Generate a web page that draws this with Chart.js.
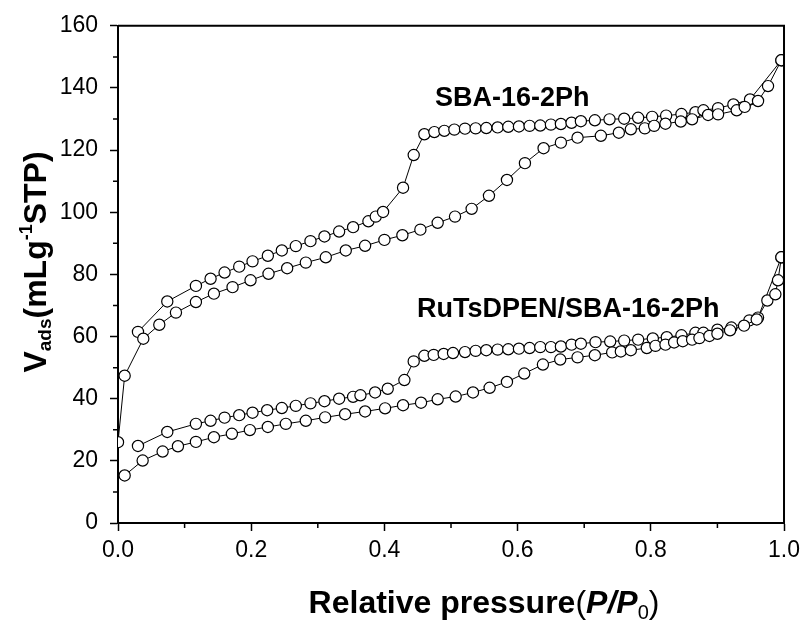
<!DOCTYPE html>
<html>
<head>
<meta charset="utf-8">
<script src="https://cdn.jsdelivr.net/npm/chart.js@4/dist/chart.umd.min.js"></script>
<style>
  html, body { margin: 0; padding: 0; background: #fff; }
  #wrap { width: 806px; height: 627px; }
</style>
</head>
<body>
<div id="wrap"><canvas id="grafico"></canvas></div>
<script>
// dados (isotermas de N2)

// SBA-16-2Ph, ramo de adsorcao
const sbaAdsX = [0, 0.010, 0.038, 0.062, 0.087, 0.117, 0.144, 0.172, 0.199, 0.226,
    0.254, 0.282, 0.312, 0.342, 0.371, 0.400, 0.427, 0.454, 0.480, 0.506,
    0.531, 0.557, 0.584, 0.611, 0.639, 0.665, 0.690, 0.725, 0.752, 0.770,
    0.791, 0.805, 0.822, 0.845, 0.862, 0.886, 0.901, 0.929, 0.941, 0.961,
    0.976, 0.996];
const sbaAdsY = [26.0, 47.4, 59.3, 63.8, 67.7, 71.1, 73.8, 75.9, 78.1, 80.2,
    82.0, 83.8, 85.5, 87.7, 89.2, 91.1, 92.6, 94.4, 96.6, 98.6,
    101.1, 105.3, 110.4, 115.8, 120.6, 122.4, 124.0, 124.6, 125.6, 126.7,
    127.0, 127.8, 128.5, 129.2, 129.9, 131.3, 131.5, 132.8, 133.9, 135.8,
    140.6, 148.9];

// SBA-16-2Ph, ramo de dessorcao
const sbaDesX = [0.030, 0.074, 0.117, 0.139, 0.160, 0.182, 0.202, 0.225, 0.246, 0.267,
    0.289, 0.310, 0.332, 0.353, 0.376, 0.387, 0.398, 0.428, 0.444, 0.460,
    0.475, 0.490, 0.505, 0.521, 0.537, 0.553, 0.570, 0.586, 0.602, 0.618,
    0.634, 0.650, 0.665, 0.681, 0.695, 0.716, 0.738, 0.760, 0.781, 0.802,
    0.823, 0.846, 0.867, 0.879, 0.901, 0.924, 0.949, 0.996];
const sbaDesY = [61.5, 71.3, 76.3, 78.6, 80.6, 82.5, 84.2, 86.0, 87.7, 89.1,
    90.7, 92.2, 93.8, 95.2, 97.1, 98.6, 100.1, 107.9, 118.4, 125.1,
    125.8, 126.2, 126.6, 126.9, 127.0, 127.1, 127.3, 127.5, 127.6, 127.8,
    127.9, 128.2, 128.4, 128.8, 129.3, 129.6, 129.9, 130.1, 130.4, 130.7,
    131.1, 131.6, 132.2, 132.8, 133.5, 134.7, 136.3, 148.9];

// RuTsDPEN/SBA-16-2Ph, ramo de adsorcao
const ruAdsX = [0.010, 0.037, 0.067, 0.090, 0.117, 0.144, 0.171, 0.198, 0.225, 0.252,
    0.282, 0.311, 0.341, 0.371, 0.401, 0.428, 0.455, 0.480, 0.507, 0.533,
    0.558, 0.584, 0.610, 0.638, 0.664, 0.690, 0.716, 0.742, 0.755, 0.770,
    0.794, 0.807, 0.822, 0.835, 0.848, 0.862, 0.873, 0.888, 0.900, 0.919,
    0.940, 0.959, 0.975, 0.987, 0.991, 0.996];
const ruAdsY = [15.3, 20.1, 23.0, 24.7, 26.1, 27.6, 28.7, 29.9, 30.9, 31.9,
    32.9, 34.0, 35.0, 35.9, 36.9, 37.9, 38.7, 39.8, 40.7, 42.0,
    43.5, 45.4, 48.1, 51.0, 52.6, 53.3, 54.0, 54.9, 55.2, 55.6,
    56.3, 57.0, 57.4, 58.1, 58.5, 59.0, 59.5, 60.2, 60.9, 62.0,
    63.5, 65.5, 71.6, 73.6, 78.1, 85.5];

// RuTsDPEN/SBA-16-2Ph, ramo de dessorcao
const ruDesX = [0.030, 0.074, 0.117, 0.139, 0.160, 0.182, 0.202, 0.224, 0.246, 0.267,
    0.289, 0.310, 0.332, 0.353, 0.364, 0.386, 0.405, 0.430, 0.444, 0.460,
    0.474, 0.489, 0.503, 0.521, 0.537, 0.553, 0.570, 0.586, 0.602, 0.618,
    0.634, 0.650, 0.665, 0.681, 0.695, 0.717, 0.739, 0.760, 0.781, 0.803,
    0.824, 0.846, 0.867, 0.879, 0.900, 0.921, 0.948, 0.961, 0.996];
const ruDesY = [24.8, 29.3, 31.9, 32.9, 33.9, 34.7, 35.5, 36.3, 37.0, 37.7,
    38.5, 39.2, 40.0, 40.6, 41.1, 42.0, 43.2, 46.0, 52.0, 53.8,
    54.1, 54.4, 54.7, 55.0, 55.4, 55.6, 55.8, 55.9, 56.1, 56.3,
    56.6, 56.6, 56.8, 57.4, 57.7, 58.2, 58.4, 58.7, 59.0, 59.4,
    59.8, 60.4, 61.2, 61.2, 62.2, 62.9, 65.2, 66.1, 85.5];

// eixos
const xMinorTicks = [0.1, 0.3, 0.5, 0.7, 0.9];
const yMinorTicks = [10, 30, 50, 70, 90, 110, 130, 150];
const rotulos = [
    { texto: 'SBA-16-2Ph', x: 435, y: 106 },
    { texto: 'RuTsDPEN/SBA-16-2Ph', x: 417, y: 317 }
];

function pontos(xs, ys) {
    return xs.map((x, i) => ({ x: x, y: ys[i] }));
}

function serie(label, xs, ys) {
    return {
        label: label,
        data: pontos(xs, ys),
        showLine: true,
        borderColor: '#000',
        borderWidth: 1,
        pointStyle: 'circle',
        pointRadius: 5.6,
        pointBorderWidth: 1.2,
        pointBackgroundColor: '#fff',
        pointBorderColor: '#000'
    };
}

// desenha texto com partes (subscrito / sobrescrito)
function textoComposto(ctx, partes) {
    let total = 0;
    partes.forEach(p => {
        ctx.font = p.font;
        p.w = ctx.measureText(p.t).width;
        total += p.w;
    });
    let x = -total / 2;
    partes.forEach(p => {
        ctx.font = p.font;
        ctx.fillText(p.t, x, p.dy || 0);
        x += p.w;
    });
}

const moldura = {
    id: 'moldura',
    afterDraw(chart) {
        const ctx = chart.ctx;
        const a = chart.chartArea;
        const sx = chart.scales.x;
        const sy = chart.scales.y;
        ctx.save();
        ctx.strokeStyle = '#000';
        ctx.lineWidth = 2;
        ctx.beginPath();
        ctx.moveTo(a.left, a.top);
        ctx.lineTo(a.right, a.top);
        ctx.lineTo(a.right, a.bottom);
        ctx.stroke();

        // ticks menores
        ctx.lineWidth = 1.5;
        ctx.beginPath();
        xMinorTicks.forEach(v => {
            const px = sx.getPixelForValue(v);
            ctx.moveTo(px, a.bottom);
            ctx.lineTo(px, a.bottom + 5);
        });
        yMinorTicks.forEach(v => {
            const py = sy.getPixelForValue(v);
            ctx.moveTo(a.left, py);
            ctx.lineTo(a.left - 5, py);
        });
        ctx.stroke();

        ctx.fillStyle = '#000';
        ctx.textBaseline = 'alphabetic';
        ctx.textAlign = 'left';
        ctx.font = 'bold 27px "Liberation Sans", Arial, sans-serif';
        rotulos.forEach(r => ctx.fillText(r.texto, r.x, r.y));

        // titulo do eixo x
        const fx = '"Liberation Sans", Arial, sans-serif';
        ctx.save();
        ctx.translate(484, 613);
        textoComposto(ctx, [
            { t: 'Relative pressure', font: 'bold 32px ' + fx },
            { t: '(', font: '32px ' + fx },
            { t: 'P/P', font: 'italic bold 32px ' + fx },
            { t: '0', font: '20px ' + fx, dy: 6 },
            { t: ')', font: '32px ' + fx }
        ]);
        ctx.restore();

        // titulo do eixo y
        ctx.save();
        ctx.translate(46, 262);
        ctx.rotate(-Math.PI / 2);
        textoComposto(ctx, [
            { t: 'V', font: 'bold 32px ' + fx },
            { t: 'ads', font: 'bold 19px ' + fx, dy: 5 },
            { t: '(mLg', font: 'bold 32px ' + fx },
            { t: '-1', font: 'bold 18px ' + fx, dy: -14 },
            { t: 'STP)', font: 'bold 32px ' + fx }
        ]);
        ctx.restore();

        ctx.restore();
    }
};

const ctx = document.getElementById('grafico').getContext('2d');

new Chart(ctx, {
    type: 'scatter',
    data: {
        datasets: [
            serie('SBA-16-2Ph adsorcao', sbaAdsX, sbaAdsY),
            serie('SBA-16-2Ph dessorcao', sbaDesX, sbaDesY),
            serie('RuTsDPEN adsorcao', ruAdsX, ruAdsY),
            serie('RuTsDPEN dessorcao', ruDesX, ruDesY)
        ]
    },
    options: {
        responsive: true,
        maintainAspectRatio: false,
        animation: false,
        layout: { padding: { top: 24, right: 18, left: 0, bottom: 0 } },
        plugins: {
            legend: { display: false },
            tooltip: { enabled: false }
        },
        scales: {
            x: {
                type: 'linear',
                min: 0,
                max: 1,
                ticks: {
                    stepSize: 0.2,
                    color: '#000',
                    padding: 6,
                    font: { family: '"Liberation Sans", Arial, sans-serif', size: 23 },
                    callback: v => v.toFixed(1)
                },
                grid: { drawOnChartArea: false, drawTicks: true, tickLength: 8, tickColor: '#000', tickWidth: 1.5 },
                border: { color: '#000', width: 2 },
                afterFit: s => { s.height = 104; }
            },
            y: {
                type: 'linear',
                min: 0,
                max: 160,
                ticks: {
                    stepSize: 20,
                    color: '#000',
                    padding: 12,
                    font: { family: '"Liberation Sans", Arial, sans-serif', size: 23 }
                },
                grid: { drawOnChartArea: false, drawTicks: true, tickLength: 8, tickColor: '#000', tickWidth: 1.5 },
                border: { color: '#000', width: 2 },
                afterFit: s => { s.width = 118; }
            }
        }
    },
    plugins: [moldura]
});
</script>
</body>
</html>
